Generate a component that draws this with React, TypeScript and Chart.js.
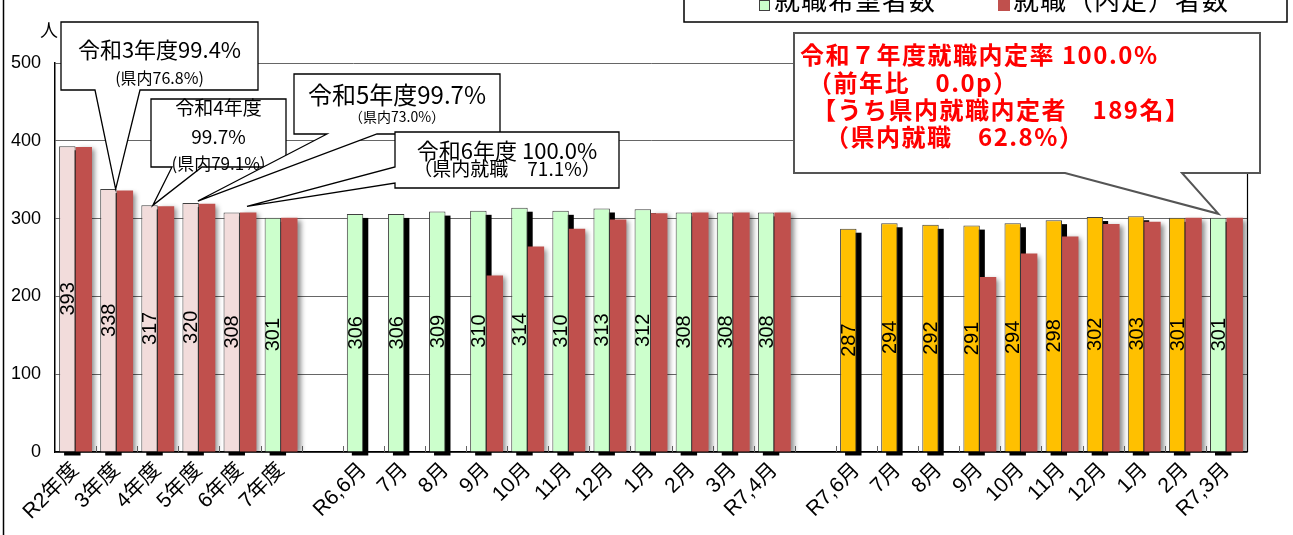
import React, { useEffect, useRef } from 'react';
import { Chart, registerables } from 'chart.js';

Chart.register(...registerables);

// ---- data ----
const categories = [
  'R2年度', '3年度', '4年度', '5年度', '6年度', '7年度', '',
  'R6,6月', '7月', '8月', '9月', '10月', '11月', '12月', '1月', '2月', '3月', 'R7,4月', '',
  'R7,6月', '7月', '8月', '9月', '10月', '11月', '12月', '1月', '2月', 'R7,3月',
];
const hopefulCounts = [
  393, 338, 317, 320, 308, 301, null,
  306, 306, 309, 310, 314, 310, 313, 312, 308, 308, 308, null,
  287, 294, 292, 291, 294, 298, 302, 303, 301, 301,
];
const placedCounts = [
  392, 336, 316, 319, 308, 301, null,
  null, null, null, 227, 264, 287, 299, 307, 308, 308, 308, null,
  null, null, null, 225, 255, 277, 293, 296, 301, 301,
];
const periodKinds = [
  'prev', 'prev', 'prev', 'prev', 'prev', 'r6', '',
  'r6', 'r6', 'r6', 'r6', 'r6', 'r6', 'r6', 'r6', 'r6', 'r6', 'r6', '',
  'r7', 'r7', 'r7', 'r7', 'r7', 'r7', 'r7', 'r7', 'r7', 'r6',
];
const yTicks = [0, 100, 200, 300, 400, 500];
const seriesNames = ['就職希望者数', '就職（内定）者数'];

// ---- styles ----
const kindColor: Record<string, string> = { prev: '#F2DCDB', r6: '#CCFFCC', r7: '#FFC000', '': 'rgba(0,0,0,0)' };
const RED = '#C0504D';
const fontJP = '"Noto Sans CJK JP", "Noto Sans", sans-serif';
const fontLatin = '"Liberation Sans", "Noto Sans CJK JP", sans-serif';

type Line = { t: string; size: number; y: number; x?: number };
type Callout = {
  idx: number; val: number; dx: number; dy: number;
  box: [number, number, number, number];
  edge: 'bottom' | 'left'; bases: [number, number];
  stroke: string; lw: number; color: string; bold: boolean; align: 'center' | 'left';
  lines: Line[];
};

const callouts: Callout[] = [
  {
    idx: 1, val: hopefulCounts[1] as number, dx: -1, dy: 0, box: [61, 22, 197, 68], edge: 'bottom', bases: [95, 140],
    stroke: '#000', lw: 1.3, color: '#000', bold: false, align: 'center',
    lines: [{ t: '令和3年度99.4%', size: 22, y: 50 }, { t: '(県内76.8%)', size: 16, y: 78 }],
  },
  {
    idx: 2, val: hopefulCounts[2] as number, dx: -5, dy: 0, box: [151, 99, 135, 68], edge: 'bottom', bases: [172, 202],
    stroke: '#000', lw: 1.3, color: '#000', bold: false, align: 'center',
    lines: [{ t: '令和4年度', size: 19, y: 108 }, { t: '99.7%', size: 19, y: 137 }, { t: '(県内79.1%)', size: 17, y: 164 }],
  },
  {
    idx: 3, val: hopefulCounts[3] as number, dx: -1, dy: -2, box: [294, 74, 206, 60], edge: 'bottom', bases: [327, 377],
    stroke: '#000', lw: 1.3, color: '#000', bold: false, align: 'center',
    lines: [{ t: '令和5年度99.7%', size: 24, y: 95 }, { t: '（県内73.0%）', size: 14, y: 117 }],
  },
  {
    idx: 4, val: hopefulCounts[4] as number, dx: 7, dy: -6, box: [395, 132, 224, 56], edge: 'left', bases: [167, 183],
    stroke: '#000', lw: 1.3, color: '#000', bold: false, align: 'center',
    lines: [{ t: '令和6年度 100.0%', size: 22, y: 151 }, { t: '（県内就職　71.1%）', size: 19, y: 169 }],
  },
  {
    idx: 28, val: hopefulCounts[28] as number, dx: -8, dy: -4, box: [794, 33, 466, 140], edge: 'bottom', bases: [1065, 1182],
    stroke: '#555', lw: 2, color: '#FF0000', bold: true, align: 'left',
    lines: [
      { t: '令和７年度就職内定率 100.0%', size: 24, y: 55, x: 800 },
      { t: '（前年比　0.0p）', size: 24, y: 83, x: 808 },
      { t: '【うち県内就職内定者　189名】', size: 24, y: 110, x: 812 },
      { t: '（県内就職　62.8%）', size: 24, y: 137, x: 825 },
    ],
  },
];

function drawCallout(chart: any, c: Callout) {
  const ctx: CanvasRenderingContext2D = chart.ctx;
  const xs = chart.scales.x;
  const ys = chart.scales.y;
  const tipX = xs.getPixelForValue(c.idx) + c.dx;
  const tipY = ys.getPixelForValue(c.val) + c.dy;
  const [x, y, w, h] = c.box;
  ctx.save();
  ctx.beginPath();
  if (c.edge === 'bottom') {
    ctx.moveTo(x, y);
    ctx.lineTo(x + w, y);
    ctx.lineTo(x + w, y + h);
    ctx.lineTo(c.bases[1], y + h);
    ctx.lineTo(tipX, tipY);
    ctx.lineTo(c.bases[0], y + h);
    ctx.lineTo(x, y + h);
  } else {
    ctx.moveTo(x, y);
    ctx.lineTo(x + w, y);
    ctx.lineTo(x + w, y + h);
    ctx.lineTo(x, y + h);
    ctx.lineTo(x, c.bases[1]);
    ctx.lineTo(tipX, tipY);
    ctx.lineTo(x, c.bases[0]);
  }
  ctx.closePath();
  ctx.fillStyle = '#fff';
  ctx.fill();
  ctx.lineWidth = c.lw;
  ctx.strokeStyle = c.stroke;
  ctx.lineJoin = 'miter';
  ctx.stroke();
  ctx.fillStyle = c.color;
  ctx.textBaseline = 'middle';
  for (const ln of c.lines) {
    ctx.font = `${c.bold ? 'bold ' : ''}${ln.size}px ${fontJP}`;
    if (c.align === 'center') {
      ctx.textAlign = 'center';
      (ctx as any).letterSpacing = '0px';
      ctx.fillText(ln.t, x + w / 2, ln.y);
    } else {
      ctx.textAlign = 'left';
      (ctx as any).letterSpacing = '1.5px';
      ctx.fillText(ln.t, ln.x ?? x + 6, ln.y);
    }
  }
  ctx.restore();
}

const decorPlugin = {
  id: 'decor',
  beforeDatasetsDraw(chart: any) {
    const ctx: CanvasRenderingContext2D = chart.ctx;
    const area = chart.chartArea;
    const xs = chart.scales.x;
    ctx.save();
    // category boundary tick marks
    const step = xs.getPixelForValue(1) - xs.getPixelForValue(0);
    ctx.strokeStyle = '#666';
    ctx.lineWidth = 1;
    for (let i = 1; i < categories.length; i++) {
      const bx = Math.round(xs.getPixelForValue(i) - step / 2) + 0.5;
      ctx.beginPath();
      ctx.moveTo(bx, area.bottom - 6);
      ctx.lineTo(bx, area.bottom);
      ctx.stroke();
    }
    // right border of plot
    ctx.strokeStyle = '#000';
    ctx.lineWidth = 1.2;
    ctx.beginPath();
    ctx.moveTo(area.right + 0.5, area.top);
    ctx.lineTo(area.right + 0.5, area.bottom);
    ctx.stroke();
    // hard black shadow of the first series
    const meta = chart.getDatasetMeta(0);
    ctx.fillStyle = '#000';
    meta.data.forEach((el: any, i: number) => {
      if (hopefulCounts[i] == null) return;
      const p = el.getProps(['x', 'y', 'base', 'width'], true);
      ctx.fillRect(p.x - p.width / 2 + 5, p.y + 4, p.width, p.base - p.y);
    });
    ctx.restore();
  },
  beforeDatasetDraw(chart: any, args: any) {
    const ctx: CanvasRenderingContext2D = chart.ctx;
    ctx.save();
    if (args.index === 1) {
      ctx.shadowColor = 'rgba(0,0,0,0.45)';
      ctx.shadowBlur = 5;
      ctx.shadowOffsetX = 3;
      ctx.shadowOffsetY = 2;
    }
  },
  afterDatasetDraw(chart: any) {
    chart.ctx.restore();
  },
  afterDatasetsDraw(chart: any) {
    const ctx: CanvasRenderingContext2D = chart.ctx;
    const meta = chart.getDatasetMeta(0);
    ctx.save();
    ctx.fillStyle = '#000';
    ctx.font = `20px ${fontLatin}`;
    ctx.textAlign = 'center';
    ctx.textBaseline = 'middle';
    meta.data.forEach((el: any, i: number) => {
      const v = hopefulCounts[i];
      if (v == null) return;
      const p = el.getProps(['x', 'y', 'base'], true);
      ctx.save();
      ctx.translate(p.x, (p.y + p.base) / 2);
      ctx.rotate(-Math.PI / 2);
      ctx.fillText(String(v), 0, 1);
      ctx.restore();
    });
    ctx.restore();
  },
  afterDraw(chart: any) {
    const ctx: CanvasRenderingContext2D = chart.ctx;
    ctx.save();
    // outer frame left line
    ctx.strokeStyle = '#000';
    ctx.lineWidth = 1.5;
    ctx.beginPath();
    ctx.moveTo(3.5, 0);
    ctx.lineTo(3.5, chart.height);
    ctx.stroke();
    // unit
    ctx.fillStyle = '#000';
    ctx.font = `18px ${fontJP}`;
    ctx.textAlign = 'center';
    ctx.textBaseline = 'middle';
    ctx.fillText('人', 49, 30);
    // legend box
    ctx.fillStyle = '#fff';
    ctx.fillRect(684, -20, 603, 42);
    ctx.strokeStyle = '#000';
    ctx.lineWidth = 1.5;
    ctx.strokeRect(684, -20, 603, 42);
    ctx.fillStyle = kindColor.r6;
    ctx.fillRect(759, 0, 10, 10);
    ctx.strokeStyle = '#404040';
    ctx.lineWidth = 1;
    ctx.strokeRect(759.5, 0.5, 10, 10);
    ctx.fillStyle = RED;
    ctx.fillRect(998, 0, 12, 11);
    ctx.fillStyle = '#000';
    ctx.font = `26px ${fontJP}`;
    ctx.textAlign = 'left';
    ctx.textBaseline = 'alphabetic';
    (ctx as any).letterSpacing = '1px';
    ctx.fillText(seriesNames[0], 774, 10);
    ctx.fillText(seriesNames[1], 1013, 10);
    (ctx as any).letterSpacing = '0px';
    ctx.restore();
    for (const c of callouts) drawCallout(chart, c);
  },
};

export default function App() {
  const ref = useRef<HTMLCanvasElement | null>(null);
  useEffect(() => {
    if (!ref.current) return;
    const chart = new Chart(ref.current, {
      type: 'bar',
      data: {
        labels: categories,
        datasets: [
          {
            label: seriesNames[0],
            data: hopefulCounts as any,
            backgroundColor: periodKinds.map((k) => kindColor[k]),
            borderColor: '#404040',
            borderWidth: 1,
            borderSkipped: 'bottom',
            categoryPercentage: 0.8,
            barPercentage: 1.0,
          },
          {
            label: seriesNames[1],
            data: placedCounts as any,
            backgroundColor: RED,
            borderWidth: 0,
            categoryPercentage: 0.8,
            barPercentage: 1.0,
          },
        ],
      },
      options: {
        responsive: false,
        animation: false,
        events: [],
        layout: { padding: { top: 63, right: 46, left: 0, bottom: 0 } },
        plugins: { legend: { display: false }, tooltip: { enabled: false } },
        scales: {
          x: {
            type: 'category',
            offset: true,
            grid: { display: false, drawTicks: false },
            border: { display: true, color: '#000', width: 1.5 },
            ticks: {
              autoSkip: false,
              minRotation: 45,
              maxRotation: 45,
              padding: 6,
              color: '#000',
              font: { size: 21, family: fontLatin },
            },
            afterFit: (s: any) => { s.height = 83; },
          },
          y: {
            min: yTicks[0],
            max: yTicks[yTicks.length - 1],
            afterBuildTicks: (s: any) => { s.ticks = yTicks.map((v) => ({ value: v })); },
            grid: { color: '#666', lineWidth: 1, drawTicks: false },
            border: { display: true, color: '#000', width: 1.5 },
            ticks: { padding: 14, color: '#000', font: { size: 18, family: fontLatin } },
            afterFit: (s: any) => { s.width = 55; },
          },
        },
      },
      plugins: [decorPlugin],
    });
    return () => chart.destroy();
  }, []);
  return (
    <div style={{ position: 'fixed', left: 0, top: 0, width: 1293, height: 535, background: '#fff' }}>
      <canvas ref={ref} width={1293} height={535} style={{ display: 'block' }} />
    </div>
  );
}
